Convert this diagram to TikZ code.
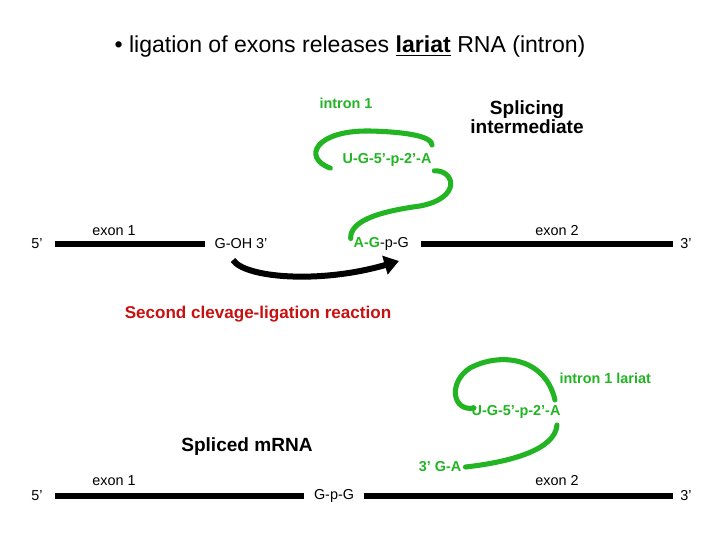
\documentclass[tikz,border=0pt]{standalone}
\usepackage{fontspec}
\setmainfont{Liberation Sans}
\usetikzlibrary{arrows.meta}
\definecolor{lgreen}{RGB}{34,180,34}
\definecolor{lred}{RGB}{200,16,16}
\tikzset{
  lbl/.style={inner sep=1pt, font=\fontsize{10.8}{12}\selectfont},
  glbl/.style={inner sep=1pt, text=lgreen, font=\fontsize{10.8}{12}\selectfont\bfseries},
  bigb/.style={inner sep=1pt, align=center, font=\fontsize{14.3}{16}\selectfont\bfseries},
  strand/.style={line width=3.8pt, black},
  gstrand/.style={line width=3.8pt, lgreen, line cap=round},
}
\begin{document}
\begin{tikzpicture}[x=0.75pt,y=-0.75pt]
\useasboundingbox (0,0) rectangle (720,540);
% title
\node[inner sep=0pt, font=\fontsize{17.3}{20}\selectfont] (title) at (350,47)
  {\textbullet\ ligation of exons releases \underline{\textbf{lariat}} RNA (intron)};
% top section
\node[glbl] (intron) at (346,103) {intron 1};
\node[bigb] (sint) at (527,117) {Splicing\\[-2pt]intermediate};
\node[glbl] (ug1) at (387,160) {U-G-5'-p-2'-A};
\node[lbl] (p5a) at (37,244) {5'};
\node[lbl] (ex1a) at (114,231) {exon 1};
\node[lbl] (goh) at (241,244) {G-OH 3'};
\node[lbl, anchor=west] (agpg) at (352,244) {\textcolor{lgreen}{\textbf{A-G}}-p-G};
\node[lbl] (ex2a) at (557,231) {exon 2};
\node[lbl] (p3a) at (686,244) {3'};
\draw[strand] ([xshift=8pt]p5a.east) -- ([xshift=-6pt]goh.west);
\draw[strand] ([xshift=8pt]agpg.east) -- ([xshift=-4pt]p3a.west);
% green loop (top)
\draw[gstrand] ([xshift=-8pt]ug1.south west) .. controls (302,158) and (315,130) .. (370,131)
  .. controls (410,132) and (432,137) .. (432,145);
\draw[gstrand] ([xshift=1pt,yshift=-2pt]ug1.south east) .. controls (455,170) and (462,198) .. (420,206)
  .. controls (375,212) and (350,222) .. ([xshift=-1pt,yshift=-2pt]agpg.north west);
% arrow
\coordinate (arrs) at (233,260);
\coordinate (arre) at (399,261);
\draw[line width=4.5pt, -{Triangle[length=11pt,width=14pt]}] (arrs) .. controls (245,278) and (320,284) .. (arre);
\node[inner sep=0pt, text=lred, font=\fontsize{12.8}{14}\selectfont\bfseries] (second) at (258,314) {Second clevage-ligation reaction};
% lariat
\node[glbl, anchor=west] (ilar) at (558,378) {intron 1 lariat};
\node[glbl] (ug2) at (516,412) {U-G-5'-p-2'-A};
\draw[gstrand] ([xshift=3pt,yshift=3pt]ug2.west) .. controls (452,412) and (448,382) .. (470,368)
  .. controls (500,352) and (545,357) .. (555,400);
\node[glbl] (ga) at (440,467) {3' G-A};
\draw[gstrand] ([xshift=2pt]ga.east) .. controls (510,462) and (555,450) .. (557,425);
\node[bigb] (spliced) at (247,447) {Spliced mRNA};
% bottom strand
\node[lbl] (p5b) at (37,496) {5'};
\node[lbl] (ex1b) at (114,481) {exon 1};
\node[lbl] (gpg) at (334,496) {G-p-G};
\node[lbl] (ex2b) at (557,481) {exon 2};
\node[lbl] (p3b) at (686,496) {3'};
\draw[strand] ([xshift=8pt]p5b.east) -- ([xshift=-6pt]gpg.west);
\draw[strand] ([xshift=6pt]gpg.east) -- ([xshift=-4pt]p3b.west);
\end{tikzpicture}
\end{document}
